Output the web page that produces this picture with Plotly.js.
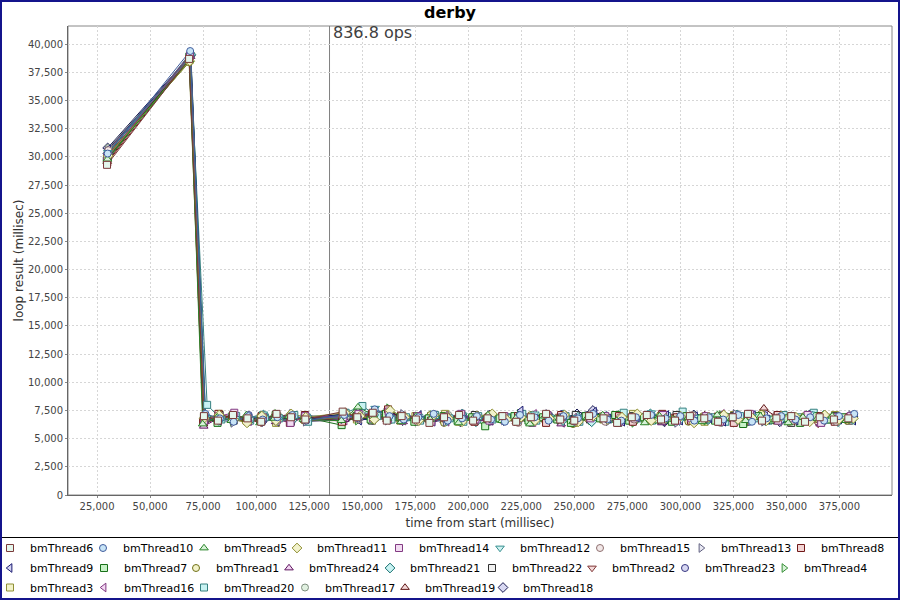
<!DOCTYPE html>
<html>
<head>
<meta charset="utf-8">
<script src="https://cdn.plot.ly/plotly-3.0.1.min.js"></script>
<style>html,body{margin:0;padding:0;background:#fff;}#chart{width:900px;height:600px;}</style>
</head>
<body>
<div id="chart"></div>
<script>
// ---------------- DATA (time from start, loop result) in milliseconds ----------------
const t6  = [29700,68400,75400,82000,89100,95900,102400,109600,116500,123200,140800,147700,155000,161600,168600,175300,181700,188600,195700,202300,209100,216100,222600,229500,236700,243400,250000,257000,263800,270200,277100,284200,290900,297500,304500,311300,317800,324700,331900,338500,345300,352300,358800,365700,372400,379200];
const r6  = [29300,38700,7000,6600,7100,6800,6500,7200,6900,6700,7400,6900,7300,6600,7000,6700,6400,6900,7100,6600,6800,7000,6500,6900,7200,6700,6600,7000,6800,6400,6900,7100,6700,6600,7000,6800,6500,6900,7200,6600,6800,7000,6500,6900,6700,6800];
const t10 = [30000,68900,76100,82900,89400,96400,103100,110000,117100,123700,141500,148300,155900,162900,169600,176500,183700,190300,197100,204100,210800,217300,224400,231300,237900,244900,251700,258900,265600,272200,279100,286200,293000,300000,306600,313500,320200,327300,333800,340600,347600,354300,361200,367800,374800,382000];
const r10 = [30300,39400,7200,6800,6500,7000,6700,6900,7100,6600,7100,6800,7600,7000,6700,6900,7200,6600,6800,7000,6700,6500,7100,6900,6600,7000,6800,7200,6700,6600,6900,7100,6800,7000,6600,6900,6700,7100,6500,6800,7000,6700,6900,6600,7000,7200];
const t5  = [29900,68500,74800,81700,88300,95400,101800,108600,115600,122300,140200,148000,155100,161900,168400,175400,182100,189000,195400,202200,209300,215900,222800,229100,236100,242900,249400,256300,263400,270000,276800,283200,290200,296900,303800,310300,317400,324200,330800,337800,344500,350900,357800,364600,371600,378200];
const r5  = [29800,38600,6300,6900,6600,7100,6400,6800,7000,6700,6600,7800,7100,6800,6500,7000,6700,6900,6400,6800,7100,6600,6900,6300,7000,6800,6500,6900,7100,6600,6800,6400,7000,6700,6900,6500,7100,6800,6600,7000,6700,6400,6900,6800,7000,6600];
const t11 = [30200,68700,75500,82600,89300,95700,102700,109300,116500,123400,142000,149000,155700,163200,170100,176700,183800,190600,197100,204100,211300,218000,224900,231500,238300,245400,251900,258900,265600,272500,279700,286300,293100,300100,306500,313400,320500,327200,334000,340600,347600,354500,361000,368100,374800,381600];
const r11 = [30100,38500,6800,7100,6700,6400,7000,6600,7200,6900,7300,7000,6700,7500,6900,6600,7100,6800,6500,7000,7200,6700,6900,6600,6800,7100,6500,7000,6700,6900,7200,6600,6800,7000,6400,6900,7100,6700,6800,6600,7000,6900,6500,7100,6700,6800];
const t14 = [29800,68800,75400,82400,89700,96200,103100,109800,116200,123200,141100,148300,155100,162500,169100,176100,182600,189500,196700,203400,210000,217000,223800,230200,237300,244200,250800,257600,264600,271100,278000,284700,291800,298400,305200,312200,318700,325600,332800,339500,346100,352900,360000,366400,373300,380300];
const r14 = [30000,39000,6600,7000,7300,6500,6900,6700,6400,7000,6900,7200,6800,7400,6600,7000,6500,6900,7200,6700,6600,7000,6800,6400,7100,6900,6600,6800,7000,6500,6900,6700,7100,6600,6800,7000,6500,6900,7200,6700,6600,6800,7100,6400,6900,7000];
const t12 = [30100,69000,75900,82400,89400,96200,103400,110000,116700,123700,141300,148400,156100,163000,169600,176600,183400,189900,197000,203900,210600,217600,224200,231400,238200,244700,251600,258700,265400,272000,279000,286300,293100,299600,306500,313200,320300,326900,333900,340700,347200,354100,361300,368000,374800,381400];
const r12 = [30400,38900,6900,6500,7000,6800,7200,6600,6700,7000,6800,7100,7700,6900,6600,7000,6800,6500,7100,6900,6700,7000,6600,7200,6800,6500,6900,7100,6700,6600,7000,7300,6800,6500,6900,6700,7100,6600,7000,6800,6500,6900,7200,6700,6800,6600];
const t15 = [30300,69100,75800,82800,89400,96300,103400,109900,116700,123300,141700,148400,155700,162800,169600,176100,183000,190000,196600,203400,210500,217200,223600,230500,237500,244100,250900,258100,264600,271500,278200,285200,292000,298600,305700,312600,319000,325800,332800,339500,346400,353000,360100,366900,373400,380400];
const r15 = [30600,38800,6700,7000,6600,6900,7100,6500,6800,6600,7000,6700,7300,7100,6800,6500,6900,7000,6600,6800,7100,6700,6400,6900,7000,6600,6800,7200,6500,6900,6700,7000,6800,6600,7100,6900,6400,6800,7000,6700,6900,6600,7100,6800,6500,7000];
const t13 = [29700,68900,76000,82700,89100,96100,102900,109500,116700,123200,140900,148300,155300,161900,169100,176000,182700,189200,196200,203000,210100,216700,223600,230300,237500,244300,250800,257800,264700,271300,278100,285200,291900,298300,305300,312100,318700,325900,332800,339300,346100,353100,359800,366700,373300,380400];
const r13 = [29900,39200,7100,6700,6400,7000,6800,6600,7200,6500,6700,7400,7000,6600,7200,6900,6700,6500,7000,6800,7100,6600,6900,6700,7200,6800,6500,7000,6900,6600,6800,7100,6700,6400,7000,6800,6600,7200,6900,6500,6800,7000,6700,6900,6600,7100];
const t8  = [29800,68500,75000,82200,89000,95600,102600,109500,115900,123000,140500,147400,154600,162200,168900,175900,182500,189300,196400,202900,209800,216500,223500,230300,236700,243800,250400,257300,264100,271100,277600,284300,291500,298400,305000,311800,318800,325200,332100,338800,345900,352500,359300,366300,372800,379700];
const r8  = [29500,38700,6500,7200,6800,6600,7000,6900,6400,7100,6500,6900,7200,7600,6700,7000,6600,6800,7100,6500,6900,6700,7000,6800,6400,7100,6600,6900,6800,7000,6500,6700,7200,6900,6600,6800,7000,6400,6900,6700,7100,6600,6800,7000,6500,6900];
const t9  = [30400,69200,76000,82600,89700,96400,103300,109800,116800,123600,142100,148700,155600,163000,169800,176900,183400,190100,197100,204000,210600,217400,224900,231600,238500,245500,252100,259500,266300,272800,279700,286400,293500,300100,307100,313900,320400,327300,334400,341100,347900,354500,361500,368400,375100,381700];
const r9  = [30700,38800,6800,6600,7100,6700,6900,6500,7000,6800,7200,6600,6900,7400,6800,7100,6500,6700,7000,6900,6600,6800,7500,6700,6900,7000,6600,7400,6800,6500,6900,6700,7100,6600,7000,6800,6500,6900,7100,6700,6800,6600,7000,6900,6700,6600];
const t7  = [29600,68500,75400,81800,88800,95500,102100,109200,116000,122900,140300,147300,154000,161200,168100,174600,181400,188400,195000,201900,208000,214800,221800,228400,235300,242000,248400,255400,262200,269300,275900,282800,289500,296000,303000,309800,316400,323300,329600,336600,343300,350100,356500,363500,370200,377100];
const r7  = [29700,38900,6900,6400,7000,6700,6600,7100,6800,6900,6200,7000,6700,7200,6900,6500,6800,7000,6600,6900,6100,6800,7000,6600,6900,6700,6400,7000,6800,7100,6600,6900,6700,6500,7000,6800,6600,6900,6300,7000,6700,6800,6400,7000,6700,6900];
const t1  = [30000,68400,75000,82000,88800,95300,102400,109100,116000,122600,140700,148000,154700,161700,168300,175100,182200,188600,195500,202200,209200,216000,222500,229600,236200,243100,249400,256200,263200,269900,276800,283400,290500,297300,303800,310800,317500,324400,331000,338200,345000,351500,358500,365200,372100,378700];
const r1  = [30200,38400,6600,7000,6800,6500,7100,6700,6900,6600,6900,7300,6700,7000,6600,6800,7100,6400,6900,6700,7000,6800,6500,7100,6600,6900,6300,6800,7000,6700,6900,6600,7100,6800,6500,7000,6700,6900,6600,7200,6800,6500,7000,6700,6900,6600];
const t24 = [30200,69100,75300,82100,89200,95800,102700,109200,116200,122900,141800,148800,155600,162800,169300,176200,182900,190000,196600,203400,209800,216800,223700,230400,237500,243800,250700,257500,264500,271100,277800,284900,291300,298200,305000,312000,318600,325300,332400,339300,345800,352800,359600,365900,372800,379600];
const r24 = [30500,38900,6100,6800,7100,6600,6900,6500,7000,6700,6700,7000,6800,7200,6500,6900,6700,7100,6600,6800,6400,7000,6900,6700,7100,6300,6900,6800,7000,6600,6700,7100,6400,6900,6800,7000,6600,6700,7100,6900,6500,7000,6800,6300,6900,6800];
const t21 = [30100,69200,76200,82900,89800,96300,103400,110200,116800,123800,141400,148300,155400,162900,169600,176200,183200,190000,197200,203700,210600,217300,224300,230900,237700,244800,251700,258200,265200,271900,278700,285900,292500,299400,306400,313100,319600,326700,333500,340100,347100,354000,360700,367800,374300,381200];
const r21 = [30300,39100,7000,6700,6900,6500,7100,6800,6600,7000,7000,6900,7100,7500,6700,6600,7000,6800,7200,6500,6900,6700,7000,6600,6800,7100,6900,6500,7000,6700,6800,7200,6600,6900,7000,6700,6500,7100,6800,6600,7000,6900,6700,7100,6500,6900];
const t22 = [30000,69000,75700,82800,89400,96200,103200,109900,116400,123300,141000,148000,154600,162000,168900,175600,182600,189200,196000,203100,209800,216700,223200,230200,237000,243600,250700,257400,264300,270700,277700,284500,291100,298200,304900,311800,318300,325300,332100,338800,345900,352300,359200,366000,373000,379600];
const r22 = [29900,39000,6700,7100,6600,6800,7000,6700,6500,6900,6800,7000,6600,7400,6900,6700,7000,6600,6800,7100,6700,6900,6500,7000,6800,6600,7100,6700,6900,6400,7000,6800,6600,7100,6700,6900,6500,7000,6800,6700,7100,6400,6900,6800,7000,6600];
const t2  = [29900,68600,75700,82300,89200,95900,102300,109300,116100,122700,140600,147700,154600,161300,168500,175300,181800,188800,195500,202400,209000,216100,222900,229300,236200,243200,249800,256600,263700,270400,276900,283800,290600,297600,304200,310900,318000,324900,331400,338200,345200,351800,358700,365000,372000,378700];
const r2  = [30100,38700,7100,6600,6900,6700,6400,7000,6800,6600,6600,7100,6900,6700,7200,6800,6500,7000,6700,6900,6600,7100,6800,6400,6900,7000,6600,6800,7100,6700,6500,6900,6800,7000,6600,6700,7100,6900,6500,6800,7000,6600,6900,6300,7000,6700];
const t23 = [30200,69200,75800,82700,89400,96500,103000,109800,116800,123500,141600,148400,155000,162300,169300,176000,182900,189500,196600,203400,209900,216900,223600,230500,237100,244300,251100,257800,264800,271300,278200,285000,292100,298700,305600,312300,319300,326100,332600,339700,346400,353300,359900,366900,373700,380400];
const r23 = [30600,39000,6600,6900,6700,7100,6500,6800,7000,6700,7100,6800,6600,7300,7000,6700,6900,6600,7100,6800,6500,7000,6700,6900,6600,7200,6800,6700,7000,6500,6900,6800,7100,6600,6900,6700,7000,6800,6500,7100,6700,6900,6600,7000,6800,6700];
const t4  = [29800,68600,75400,82400,88900,95800,102500,109700,116300,123100,141200,147800,154800,162500,169300,175800,182900,189600,196500,203100,210100,216900,224100,230600,237500,244200,251200,257800,264600,271700,278100,285000,291700,298700,305500,312100,319200,326100,332600,339600,346300,353100,360200,366800,373700,380400];
const r4  = [29800,38800,6800,7000,6500,6900,6700,7200,6600,6800,6900,6600,7000,7700,6800,6500,7100,6700,6900,6600,7000,6800,7200,6500,6900,6700,7000,6600,6800,7100,6400,6900,6700,7000,6800,6600,7100,6900,6500,7000,6700,6800,7100,6600,6900,6700];
const t3  = [30100,68700,75400,82600,89400,96000,103000,109400,116300,123000,140800,147500,154600,161500,168100,175100,181900,189100,195600,202500,209200,216200,222800,229600,236700,243600,250000,257000,263700,270500,277700,284300,291200,297900,304900,311400,318200,325300,332000,338900,345500,352500,359300,365800,372900,379700];
const r3  = [30200,38600,6700,7200,6800,6600,7000,6400,6900,6700,7200,6700,7100,6900,6600,7000,6800,7200,6500,6900,6700,7000,6600,6800,7100,6900,6400,7000,6700,6800,7200,6600,6900,6700,7000,6500,6800,7100,6700,6900,6600,7000,6800,6500,7100,6800];
const t16 = [30300,69100,75500,82400,89500,96100,102900,109900,116400,123300,141900,148900,156100,162900,169500,176400,183500,190000,196800,203800,210500,217400,224000,231200,238000,244400,251400,258100,265000,271600,278700,285500,292000,299000,305700,312600,319800,326400,333200,340200,346700,353600,360300,367400,374000,380800];
const r16 = [30400,38800,6400,6900,7100,6600,6800,7000,6500,6900,6600,7000,7200,6800,6600,6900,7100,6500,6800,7000,6700,6900,6600,7200,6800,6400,7000,6700,6900,6600,7100,6800,6500,7000,6700,6900,7200,6600,6800,7000,6500,6900,6700,7100,6600,6800];
const t20 = [29900,68900,76900,83600,90600,97200,104100,110900,118000,124500,142200,150100,157100,163800,170700,177300,184400,191200,197700,204700,211400,218300,225500,232100,238900,245900,252400,259300,266000,273300,280100,286700,293700,301100,307800,314700,321200,328200,335000,341600,348700,355600,362900,369600,376400];
const r20 = [30000,39000,8000,6700,7000,6600,6900,6800,7100,6500,7300,7900,7000,6700,6900,6600,7100,6800,6500,7000,6700,6900,7200,6600,6800,7000,6500,6900,6700,7300,6800,6600,7000,7400,6700,6900,6500,7000,6800,6600,7100,6900,7300,6700,6800];
const t17 = [30400,69300,76000,83000,89800,96300,103200,110300,116900,123700,142300,149500,156300,162900,169900,176600,183500,190600,197100,203900,210900,217500,224400,231100,238200,245000,251500,258500,265200,272100,278700,285800,292600,299600,306100,313000,319700,326900,333500,340300,347300,354000,360900,367400,374400,381200];
const r17 = [30800,38900,6700,7000,6800,6500,6900,7100,6600,6800,6900,7200,6800,6600,7000,6700,6900,7100,6500,6800,7000,6600,6900,6700,7100,6800,6500,7000,6700,6900,6600,7100,6800,7000,6500,6900,6700,7200,6600,6800,7000,6700,6900,6500,7000,6800];
const t19 = [29800,68900,75200,82000,89000,95700,102300,109200,116400,123000,141100,147900,155000,161700,168200,175100,182100,188700,195500,202600,209300,216200,222700,229700,236500,243100,250000,257100,263800,270600,277100,284100,291000,297600,304400,311500,318200,325100,331700,339400,346200,352700,359700,366400,373300,379900];
const r19 = [29600,39100,6300,6800,7000,6700,6600,6900,7200,6600,7000,6800,7100,6700,6500,6900,7000,6600,6800,7100,6700,6900,6500,7000,6800,6600,6900,7100,6700,6800,6500,7000,6900,6600,6800,7100,6700,6900,6600,7700,6800,6500,7000,6700,6900,6600];
const t18 = [30000,69000,75900,82500,89500,96300,102800,109900,116600,123500,141500,148500,155300,162500,169100,176000,182700,189700,196200,203000,210100,216700,223600,230300,237300,244100,251300,258800,265400,272300,279000,286000,292500,299300,306400,313100,320000,326600,333600,340400,346900,353800,360900,367600,374400,381400];
const r18 = [30800,39000,6900,6600,7000,6800,6500,7100,6700,6900,6700,7000,6800,7200,6600,6900,6700,7000,6500,6800,7100,6600,6900,6700,7000,6800,7200,7500,6600,6900,6700,7000,6500,6800,7100,6700,6900,6600,7000,6800,6500,6900,7100,6700,6800,7000];

// series in legend order
const seriesNames = ['bmThread6','bmThread10','bmThread5','bmThread11','bmThread14','bmThread12','bmThread15','bmThread13','bmThread8',
                     'bmThread9','bmThread7','bmThread1','bmThread24','bmThread21','bmThread22','bmThread2','bmThread23','bmThread4',
                     'bmThread3','bmThread16','bmThread20','bmThread17','bmThread19','bmThread18'];
const seriesTimes   = [t6,t10,t5,t11,t14,t12,t15,t13,t8,t9,t7,t1,t24,t21,t22,t2,t23,t4,t3,t16,t20,t17,t19,t18];
const seriesResults = [r6,r10,r5,r11,r14,r12,r15,r13,r8,r9,r7,r1,r24,r21,r22,r2,r23,r4,r3,r16,r20,r17,r19,r18];

const xTickVals = [25000,50000,75000,100000,125000,150000,175000,200000,225000,250000,275000,300000,325000,350000,375000];
const yTickVals = [0,2500,5000,7500,10000,12500,15000,17500,20000,22500,25000,27500,30000,32500,35000,37500,40000];

const markerTime = 134600;
const markerLabel = '836.8 ops';
const chartTitle = 'derby';
const xTitle = 'time from start (millisec)';
const yTitle = 'loop result (millisec)';

// ---------------- STYLES ----------------
const symbols = ['square','circle','triangle-up','diamond','square','triangle-down','circle','triangle-right','square',
                 'triangle-left','square','circle','triangle-up','diamond','square','triangle-down','circle','triangle-right',
                 'square','triangle-left','square','circle','triangle-up','diamond'];
const lineColors = ['#7a3a3a','#3f5c9c','#2a842a','#8f8f34','#823a82','#368f8f','#8f7070','#606080','#701818',
                    '#181870','#187018','#707018','#601860','#187070','#303030','#803636','#363680','#368f36',
                    '#8f8f36','#803680','#368080','#7f8f7f','#601818','#181850'];
const fillColors = ['#e4f6ec','#c8e4f6','#d8f2d8','#f2f2cc','#f2dcf2','#d0f2f2','#f2e8e8','#e8e8f2','#f2d4d4',
                    '#d4d4f2','#c8f2c8','#f2f2c8','#f2d4f2','#c8f2f2','#f0f0f0','#f2d8d8','#d8d8f2','#d8f2d8',
                    '#f2f2c8','#f2d8f2','#c8f2f2','#e0f0e0','#f2d8d8','#d8d8f2'];
const symbolSizes = {'square':7,'circle':7,'diamond':7.5,'triangle-up':7.5,'triangle-down':7.5,'triangle-left':7.5,'triangle-right':7.5};

const W = 900, H = 600;
const M = {l:68, r:8, t:26, b:105};
const plotW = W - M.l - M.r, plotH = H - M.t - M.b;
const px2x = px => (px - M.l) / plotW;
const py2y = py => (H - M.b - py) / plotH;
const FONT = 'DejaVu Sans, Verdana, sans-serif';

// legend rows: text start pixel of each entry in the row
const legendRows = [
  {id:'legend',  names:['bmThread6','bmThread10','bmThread5','bmThread11'], textX:[23,116,217,310], cy:548},
  {id:'legend2', names:['bmThread14','bmThread12','bmThread15','bmThread13','bmThread8'], textX:[412,513,613,714,814], cy:548},
  {id:'legend3', names:['bmThread9','bmThread7','bmThread1','bmThread24'], textX:[23,117,209,302], cy:568},
  {id:'legend4', names:['bmThread21','bmThread22','bmThread2','bmThread23','bmThread4'], textX:[403,505,605,698,797], cy:568},
  {id:'legend5', names:['bmThread3','bmThread16','bmThread20','bmThread17','bmThread19','bmThread18'], textX:[23,117,217,318,418,516], cy:587.5}
];
const legendInfo = {};
legendRows.forEach(row => {
  row.names.forEach((n, i) => {
    legendInfo[n] = {id: row.id, rank: i + 1,
      width: i < row.names.length - 1 ? row.textX[i + 1] - row.textX[i] - 45 : undefined};
  });
});

// ---------------- TRACES ----------------
const traces = [];
for (let s = seriesNames.length - 1; s >= 0; s--) {
  traces.push({
    type: 'scatter', mode: 'lines', x: seriesTimes[s], y: seriesResults[s],
    line: {color: lineColors[s], width: 1}, showlegend: false, hoverinfo: 'skip'
  });
}
for (let s = seriesNames.length - 1; s >= 0; s--) {
  const info = legendInfo[seriesNames[s]];
  const tr = {
    type: 'scatter', mode: 'markers', name: seriesNames[s], x: seriesTimes[s], y: seriesResults[s],
    marker: {symbol: symbols[s], size: symbolSizes[symbols[s]], color: fillColors[s], line: {color: lineColors[s], width: 1}},
    legend: info.id, legendrank: info.rank
  };
  if (info.width !== undefined) tr.legendwidth = info.width;
  traces.push(tr);
}

// ---------------- LAYOUT ----------------
const legendBase = {
  orientation: 'h', xanchor: 'left', yanchor: 'top', bgcolor: 'rgba(0,0,0,0)', borderwidth: 0,
  itemwidth: 30, font: {family: FONT, size: 11, color: '#000'}, traceorder: 'normal',
  itemclick: false, itemdoubleclick: false, tracegroupgap: 0
};
const layout = {
  width: W, height: H,
  margin: {l: M.l, r: M.r, t: M.t, b: M.b, pad: 0, autoexpand: false},
  paper_bgcolor: '#ffffff', plot_bgcolor: '#ffffff',
  title: {text: chartTitle, font: {family: FONT, size: 16, color: '#000', weight: 'bold'},
          x: 0.5, xref: 'container', xanchor: 'center', y: 1 - 12.5 / H, yref: 'container', yanchor: 'middle'},
  xaxis: {
    range: [11300, 399800], tickvals: xTickVals, tickformat: ',d',
    ticks: 'outside', ticklen: 2, tickcolor: '#888', tickfont: {family: FONT, size: 10, color: '#444'},
    showgrid: true, gridcolor: '#d6d6d6', griddash: '2px,2px', gridwidth: 1,
    showline: true, linecolor: '#666', linewidth: 1, zeroline: false, automargin: false,
    title: {text: xTitle, font: {family: FONT, size: 12, color: '#333'}, standoff: 7}
  },
  yaxis: {
    range: [0, 41620], tickvals: yTickVals, tickformat: ',d',
    ticks: 'outside', ticklen: 2, tickcolor: '#888', tickfont: {family: FONT, size: 10, color: '#444'},
    showgrid: true, gridcolor: '#d6d6d6', griddash: '2px,2px', gridwidth: 1,
    showline: true, linecolor: '#666', linewidth: 1, zeroline: false, automargin: false,
    title: {text: yTitle, font: {family: FONT, size: 12, color: '#333'}, standoff: 1}
  },
  shapes: [
    {type: 'rect', xref: 'paper', yref: 'paper', x0: 0, x1: 1, y0: 0, y1: 1, line: {color: '#888', width: 1}, layer: 'below'},
    {type: 'line', xref: 'x', yref: 'paper', x0: markerTime, x1: markerTime, y0: 0, y1: 1, line: {color: '#808080', width: 1}, layer: 'between'},
    {type: 'rect', xref: 'paper', yref: 'paper', x0: px2x(1.5), x1: px2x(898.5), y0: py2y(537.5), y1: py2y(598.5), line: {color: '#000', width: 1}},
    {type: 'rect', xref: 'paper', yref: 'paper', x0: px2x(1), x1: px2x(899), y0: py2y(1), y1: py2y(599), line: {color: '#14148c', width: 2}}
  ],
  annotations: [
    {xref: 'x', yref: 'paper', x: markerTime, y: 1, xanchor: 'left', yanchor: 'top', showarrow: false,
     text: markerLabel, font: {family: FONT, size: 16, color: '#404040'}, xshift: 1, yshift: 5}
  ],
  showlegend: true
};
legendRows.forEach(row => {
  layout[row.id] = Object.assign({}, legendBase, {
    x: px2x(row.textX[0] + 7 - 40), y: py2y(row.cy - 14.5)
  });
});

Plotly.newPlot('chart', traces, layout, {displayModeBar: false, staticPlot: true});
</script>
</body>
</html>
